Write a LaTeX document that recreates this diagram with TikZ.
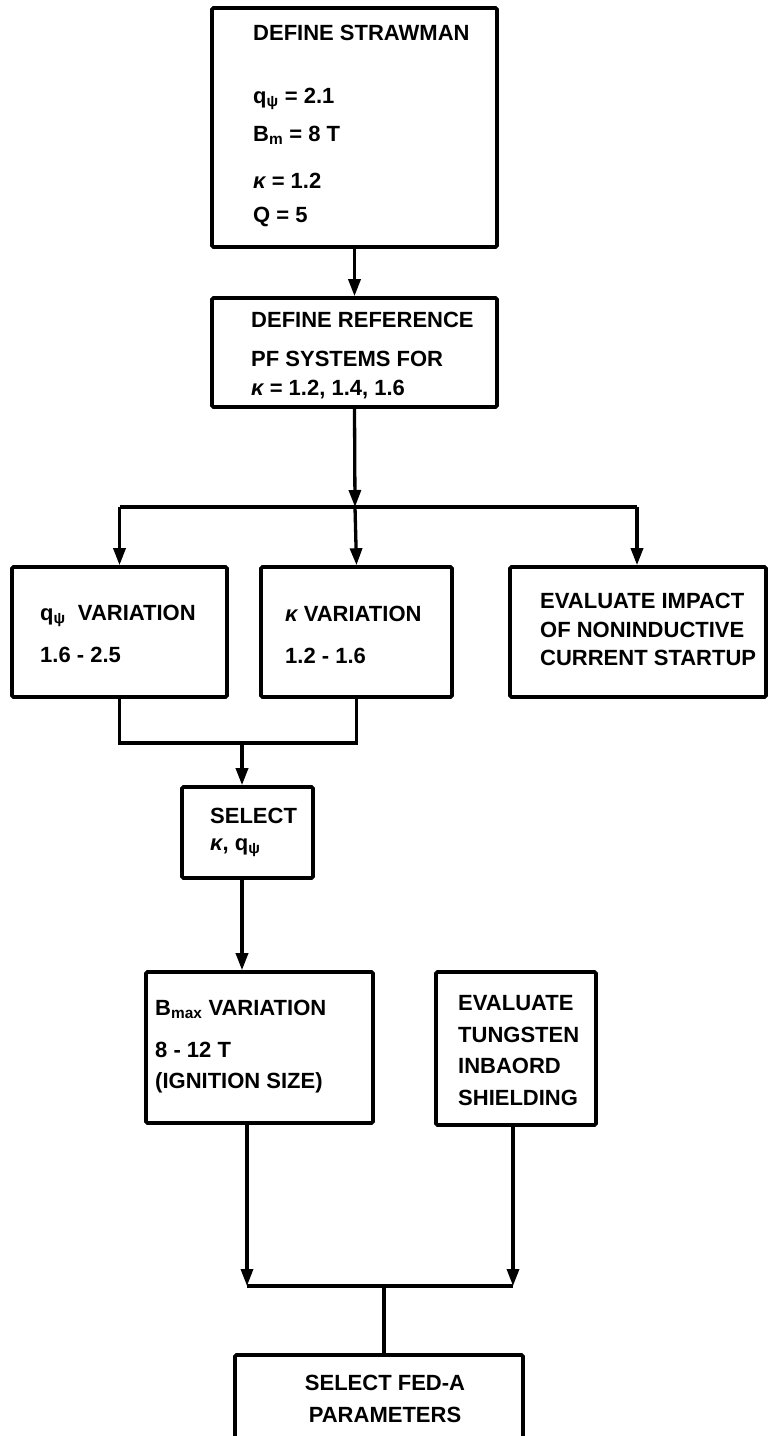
\documentclass[tikz,border=0pt]{standalone}
\usepackage{fontspec}
\setmainfont{Liberation Sans}
\usetikzlibrary{arrows.meta}
\tikzset{
  box/.style={draw, line width=3.6pt, rounded corners=1.5pt, inner sep=0pt},
  txt/.style={font=\fontsize{22}{26}\selectfont\bfseries, inner sep=0pt, anchor=base west},
  ctxt/.style={font=\fontsize{22}{26}\selectfont\bfseries, inner sep=0pt, anchor=base},
  conn/.style={line width=3.3pt},
  arr/.style={line width=3.3pt, -{Triangle[length=17pt,width=12pt]}},
}
\newcommand{\kap}{{\itshape κ}}
\newcommand{\qpsi}{q\textsubscript{ψ}}
\begin{document}
\begin{tikzpicture}[x=1pt,y=-1pt]
\path[use as bounding box] (0,0) rectangle (769,1436);
\clip (0,0) rectangle (769,1436);
% boxes
\node[box, minimum width=285pt, minimum height=239pt] (b1) at (354.5,127.5) {};
\node[box, minimum width=285pt, minimum height=109pt] (b2) at (354.5,352.5) {};
\node[box, minimum width=215pt, minimum height=130pt] (bq) at (119.5,632) {};
\node[box, minimum width=191pt, minimum height=130pt] (bk) at (356.5,632) {};
\node[box, minimum width=256pt, minimum height=130pt] (be) at (638,632) {};
\node[box, minimum width=131pt, minimum height=91pt] (bs) at (247.5,832.5) {};
\node[box, minimum width=227pt, minimum height=151pt] (bb) at (259.5,1047.5) {};
\node[box, minimum width=160pt, minimum height=153pt] (bt) at (516,1048.5) {};
\node[box, minimum width=288pt, minimum height=105pt] (bf) at (379,1407.5) {};
% texts
\node[txt] (t1a) at (253,40) {DEFINE STRAWMAN};
\node[txt] (t1b) at (253,103) {\qpsi\ = 2.1};
\node[txt] (t1c) at (253,141) {B\textsubscript{m} = 8 T};
\node[txt] (t1d) at (253,188) {\kap\ = 1.2};
\node[txt] (t1e) at (253,222) {Q = 5};
\node[txt] (t2a) at (251,327) {DEFINE REFERENCE};
\node[txt] (t2b) at (251,366) {PF SYSTEMS FOR};
\node[txt] (t2c) at (251,395) {\kap\ = 1.2, 1.4, 1.6};
\node[txt] (tqa) at (40,620) {\qpsi\ \ VARIATION};
\node[txt] (tqb) at (40,662) {1.6 - 2.5};
\node[txt] (tka) at (285,621) {\kap\ VARIATION};
\node[txt] (tkb) at (285,663) {1.2 - 1.6};
\node[txt] (tea) at (540,608) {EVALUATE IMPACT};
\node[txt] (teb) at (540,637) {OF NONINDUCTIVE};
\node[txt] (tec) at (540,665) {CURRENT STARTUP};
\node[txt] (tsa) at (210,823) {SELECT};
\node[txt] (tsb) at (210,850) {\kap, \qpsi};
\node[txt] (tba) at (155,1015) {B\textsubscript{max} VARIATION};
\node[txt] (tbb) at (155,1057) {8 - 12 T};
\node[txt] (tbc) at (155,1088) {(IGNITION SIZE)};
\node[txt] (tta) at (458,1010) {EVALUATE};
\node[txt] (ttb) at (458,1042) {TUNGSTEN};
\node[txt] (ttc) at (458,1073) {INBAORD};
\node[txt] (ttd) at (458,1105) {SHIELDING};
\node[ctxt] (tfa) at (385,1390) {SELECT FED-A};
\node[ctxt] (tfb) at (385,1422) {PARAMETERS};
% junction coordinates
\coordinate (j1) at (355,507);
\coordinate (jl) at (bq.north |- j1);
\coordinate (jr) at (637,507);
\coordinate (k1) at (bq.south |- 0,743);
\coordinate (k2) at (bk.south |- 0,743);
\coordinate (k3) at (242,743);
\coordinate (m1) at (247,1286);
\coordinate (m2) at (513,1286);
\coordinate (m3) at (384,1286);
% connectors
\draw[arr] (b1.south) -- (b2.north);
\draw[arr] (b2.south) -- (j1);
\draw[conn] (jl) -- (jr);
\draw[arr] (jl) -- (bq.north);
\draw[arr] (j1) -- (bk.north);
\draw[arr] (jr) -- (jr |- be.north);
\draw[conn] (bq.south) -- (k1) -- (k2) -- (bk.south);
\draw[arr] (k3) -- (k3 |- bs.north);
\draw[arr] (k3 |- bs.south) -- (k3 |- bb.north);
\draw[arr] (m1 |- bb.south) -- (m1);
\draw[arr] (m2 |- bt.south) -- (m2);
\draw[conn] (m1) -- (m2);
\draw[conn] (m3) -- (m3 |- bf.north);
\end{tikzpicture}
\end{document}
